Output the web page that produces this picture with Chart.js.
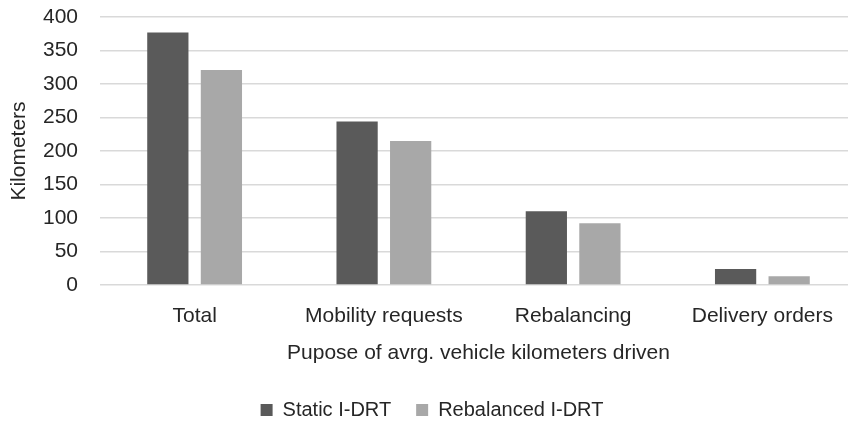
<!DOCTYPE html>
<html>
<head>
<meta charset="utf-8">
<script src="https://cdn.jsdelivr.net/npm/chart.js@4.4.0/dist/chart.umd.min.js"></script>
<style>
html,body{margin:0;padding:0;background:#fff;overflow:hidden;}
#wrap{width:870px;height:421px;position:relative;}
</style>
</head>
<body>
<div id="wrap"><canvas id="c"></canvas></div>
<script>
const categories = ["Total", "Mobility requests", "Rebalancing", "Delivery orders"];
const staticIDRT = [377, 244, 110, 24];
const rebalancedIDRT = [321, 215, 92, 13];
const yTicks = [0, 50, 100, 150, 200, 250, 300, 350, 400];

const FONT = "'Liberation Sans', Arial, sans-serif";
const TXT = "#262626";
const FS = 21;

new Chart(document.getElementById('c'), {
  type: 'bar',
  data: {
    labels: categories,
    datasets: [
      { label: 'Static I-DRT', data: staticIDRT, backgroundColor: '#5a5a5a',
        categoryPercentage: 0.566, barPercentage: 0.77 },
      { label: 'Rebalanced I-DRT', data: rebalancedIDRT, backgroundColor: '#a8a8a8',
        categoryPercentage: 0.566, barPercentage: 0.77 }
    ]
  },
  options: {
    responsive: true,
    maintainAspectRatio: false,
    animation: false,
    layout: { padding: { top: 17, right: 13, left: 7, bottom: 0 } },
    plugins: {
      tooltip: { enabled: false },
      legend: {
        position: 'bottom',
        maxHeight: 46,
        labels: { font: { family: FONT, size: 20 }, color: TXT, boxWidth: 12, boxHeight: 12, padding: 25 }
      }
    },
    scales: {
      x: {
        afterFit: (s) => { s.height = 90; },
        grid: { display: false, drawTicks: false },
        border: { display: false },
        ticks: { font: { family: FONT, size: FS }, color: TXT, padding: 19, maxRotation: 0, autoSkip: false },
        title: { display: true, text: 'Pupose of avrg. vehicle kilometers driven', font: { family: FONT, size: FS }, color: TXT, padding: { top: 0, bottom: 9 } }
      },
      y: {
        min: 0, max: 400,
        afterBuildTicks: (ax) => { ax.ticks = yTicks.map(v => ({ value: v })); },
        afterFit: (s) => { s.width = 93; },
        grid: { color: '#d9d9d9', lineWidth: 1.5, drawTicks: true, tickLength: 20, tickColor: 'rgba(0,0,0,0)' },
        border: { display: false },
        ticks: { font: { family: FONT, size: FS }, color: TXT, padding: 2 },
        title: { display: true, text: 'Kilometers', font: { family: FONT, size: FS }, color: TXT, padding: { top: 0, bottom: 0 } }
      }
    }
  }
});
</script>
</body>
</html>
